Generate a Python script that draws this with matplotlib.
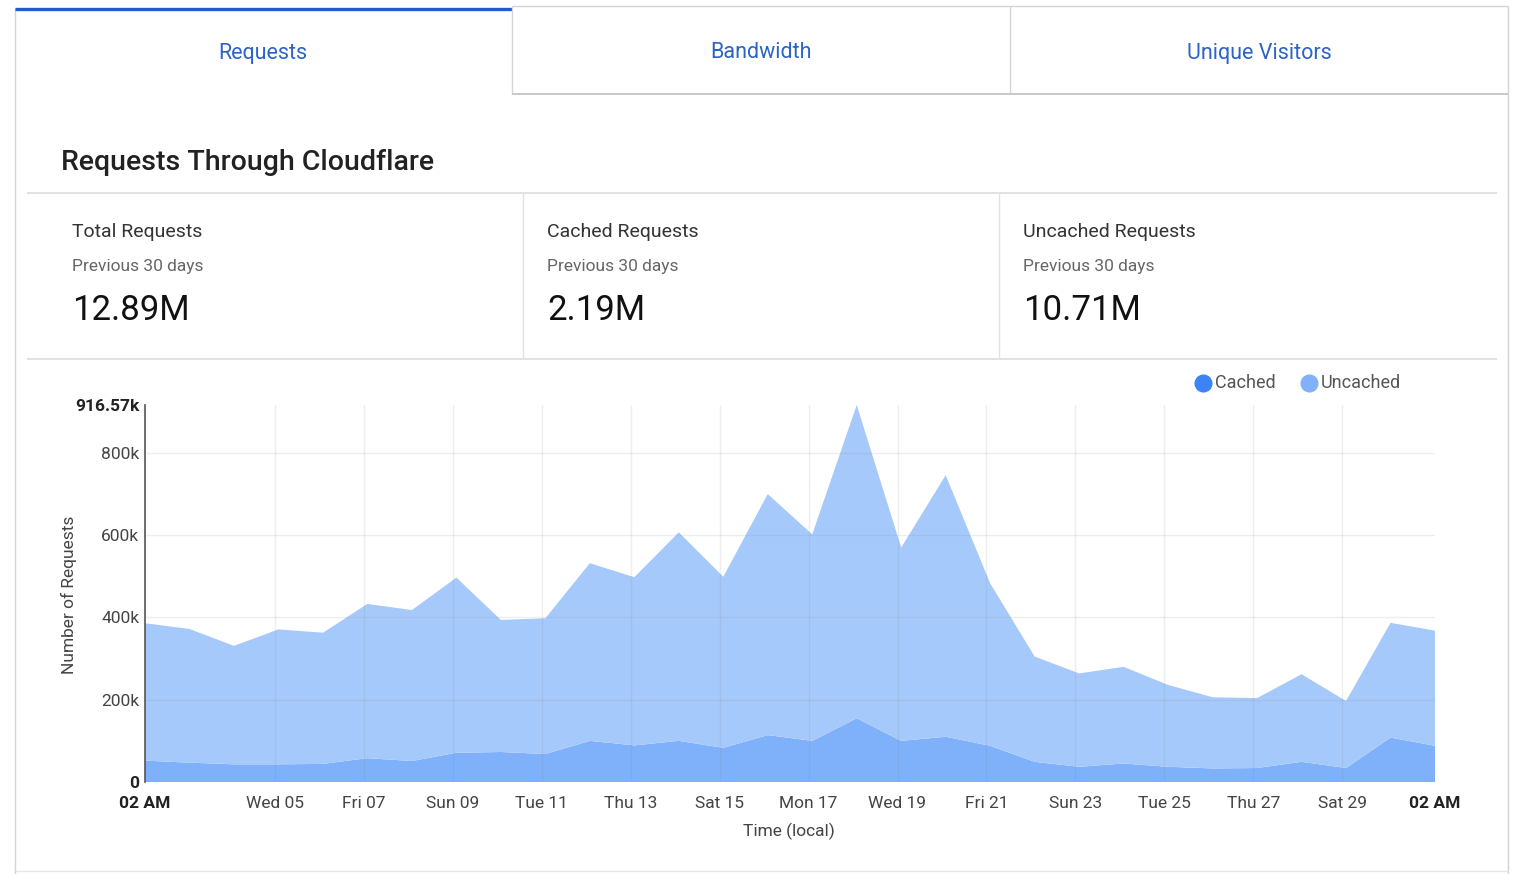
import matplotlib.pyplot as plt
import pandas as pd
from matplotlib.lines import Line2D

plt.rcParams["font.family"] = ["Roboto", "DejaVu Sans"]

W, H = 1514, 874

# daily samples, 02 AM each day
days = pd.date_range("2025-03-02 02:00", periods=30, freq="D")

# values in thousands of requests
cached = [52, 47, 43, 43, 44, 58, 51, 71, 73, 68,
          100, 89, 100, 83, 114, 100, 155, 100, 110, 88,
          49, 37, 45, 37, 33, 34, 49, 34, 108, 88]
uncached = [334, 325, 288, 328, 319, 375, 367, 426, 321, 330,
            432, 409, 507, 416, 586, 502, 761.57, 470, 636, 395,
            256, 227, 235, 199, 173, 170, 213, 163, 279, 280]

y_ticks = [0, 200, 400, 600, 800, 916.57]
y_labels = ["0", "200k", "400k", "600k", "800k", "916.57k"]

mid_ticks = pd.date_range("2025-03-05", "2025-03-29", freq="2D")
x_labels = ["02 AM"] + [d.strftime("%a %d") for d in mid_ticks] + ["02 AM"]

tabs = ["Requests", "Bandwidth", "Unique Visitors"]
stat_titles = ["Total Requests", "Cached Requests", "Uncached Requests"]
stat_values = ["12.89M", "2.19M", "10.71M"]


def fx(px):
    return px / W


def fy(py):
    return 1 - py / H


fig = plt.figure(figsize=(W / 100, H / 100), dpi=100)
fig.patch.set_facecolor("white")


def line(x0, x1, y0, y1, color="#d4d4d4", lw=1.0):
    fig.add_artist(Line2D([fx(x0), fx(x1)], [fy(y0), fy(y1)], color=color, lw=lw,
                          solid_capstyle="butt"))


# card + tabs
line(15, 15, 8, 874)
line(1508, 1508, 6, 874)
line(15, 1508, 871, 871, color="#e6e6e6")
line(15, 512, 8.5, 8.5, color="#1d5fc4", lw=2.4)
line(512, 1508, 6, 6)
line(512, 512, 6, 94)
line(1010, 1010, 6, 94)
line(512, 1508, 94, 94, color="#c8c8c8", lw=1.4)
tab_x = [263, 761, 1259]
for tx, t in zip(tab_x, tabs):
    fig.text(fx(tx), fy(53), t, color="#2b63c6", fontsize=15.5, ha="center", va="center")

fig.text(fx(61), fy(163), "Requests Through Cloudflare", color="#222222", fontsize=20.5,
         fontweight="medium", va="center")

# stats row
line(27, 1497, 193, 193, color="#e2e2e2", lw=1.4)
line(27, 1497, 359, 359, color="#e2e2e2", lw=1.4)
line(523, 523, 193, 359, color="#e2e2e2", lw=1.0)
line(999, 999, 193, 359, color="#e2e2e2", lw=1.0)
stat_x = [72, 547, 1023]
for sx, t, v in zip(stat_x, stat_titles, stat_values):
    fig.text(fx(sx), fy(232), t, color="#333333", fontsize=14, va="center")
    fig.text(fx(sx), fy(266), "Previous 30 days", color="#666666", fontsize=12.5, va="center")
    fig.text(fx(sx), fy(310), v, color="#111111", fontsize=25, va="center")

# chart
ax = fig.add_axes([fx(145), fy(782), fx(1435) - fx(145), (782 - 405) / H])
ax.stackplot(days, cached, uncached, colors=["#7fb1fb", "#a6c9fb"], lw=0)
ax.set_xlim(days[0], days[-1])
ax.set_ylim(0, 916.57)

ax.set_xticks([days[0]] + list(mid_ticks) + [days[-1]])
ax.set_xticklabels(x_labels)
ax.set_yticks(y_ticks)
ax.set_yticklabels(y_labels)
ax.tick_params(axis="both", length=0, labelsize=12.5, labelcolor="#444444")
ax.tick_params(axis="x", pad=10)
ax.tick_params(axis="y", pad=4)
for lab in [ax.get_xticklabels()[0], ax.get_xticklabels()[-1],
            ax.get_yticklabels()[0], ax.get_yticklabels()[-1]]:
    lab.set_fontweight("bold")
    lab.set_color("#222222")

for d in mid_ticks:
    ax.axvline(d, color="#777777", alpha=0.12, lw=1)
for v in y_ticks[1:-1]:
    ax.axhline(v, color="#777777", alpha=0.12, lw=1)

for s in ["top", "right", "bottom"]:
    ax.spines[s].set_visible(False)
ax.spines["left"].set_color("#555555")
ax.spines["left"].set_linewidth(1.2)

fig.text(fx(69), fy(595), "Number of Requests", rotation=90, color="#444444",
         fontsize=12.5, ha="center", va="center")
fig.text(fx(789), fy(831), "Time (local)", color="#444444", fontsize=12.5,
         ha="center", va="center")

# legend
for lx, col, name in [(1203, "#3b83f6", "Cached"), (1309, "#80b1f9", "Uncached")]:
    fig.add_artist(Line2D([fx(lx)], [fy(383)], marker="o", ms=12, color=col, lw=0))
    fig.text(fx(lx + 12), fy(383), name, color="#555555", fontsize=13, va="center")

fig.savefig("out.png", dpi=100)
